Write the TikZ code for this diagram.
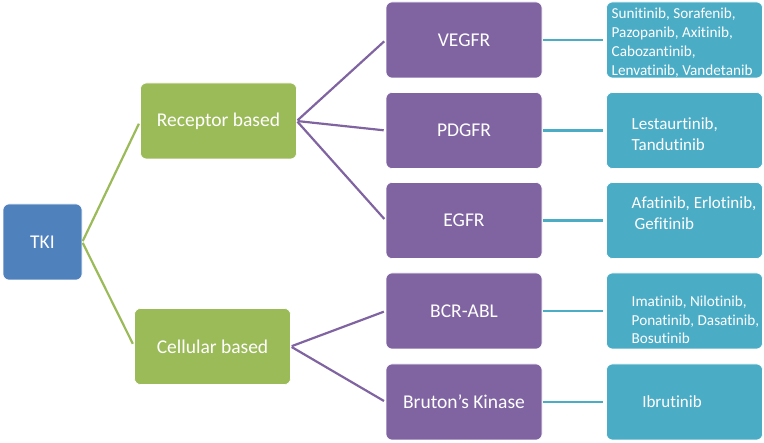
\documentclass[tikz,border=0pt]{standalone}
\usepackage{fontspec}
\setmainfont{Carlito}[RawFeature={-liga}]
\definecolor{cblue}{HTML}{4F81BD}
\definecolor{cgreen}{HTML}{9BBB59}
\definecolor{cpurple}{HTML}{8064A2}
\definecolor{cteal}{HTML}{4BACC6}
\begin{document}
\begin{tikzpicture}[x=1pt,y=-1pt,
  box/.style={rounded corners=6pt, draw=white, line width=0.6pt, text=white, inner sep=0pt,
    minimum height=76pt, font=\fontsize{19.5}{23.5}\selectfont},
  tkibox/.style={box, fill=cblue, minimum width=79pt},
  grnbox/.style={box, fill=cgreen, minimum width=156pt},
  purbox/.style={box, fill=cpurple, minimum width=156pt},
  tealbox/.style={box, fill=cteal, minimum width=156pt},
  drug/.style={text=white, inner sep=0pt, align=left, anchor=west},
  gline/.style={draw=cgreen, line width=2.2pt, shorten <=1pt, shorten >=3pt},
  pline/.style={draw=cpurple, line width=2.2pt, shorten <=1pt, shorten >=2pt},
  tline/.style={draw=cteal, line width=2.2pt, shorten <=1pt, shorten >=3pt}
]
\useasboundingbox (0,0) rectangle (764,443);
% main nodes
\node[tkibox] (tki) at (42.5,242) {TKI};
\node[grnbox] (rec) at (218.5,121) {Receptor based};
\node[grnbox] (cel) at (212.5,346.5) {Cellular based};
\node[purbox] (vegfr) at (464,40) {VEGFR};
\node[purbox] (pdgfr) at (464,130.5) {PDGFR};
\node[purbox] (egfr) at (464,220.5) {EGFR};
\node[purbox] (bcr) at (464,311) {BCR-ABL};
\node[purbox] (btk) at (464,402) {Bruton’s Kinase};
\node[tealbox] (d1) at (684.5,40) {};
\node[tealbox] (d2) at (684.5,130.5) {};
\node[tealbox] (d3) at (684.5,220.5) {};
\node[tealbox] (d4) at (684.5,311) {};
\node[tealbox] (d5) at (684.5,402) {};
% drug texts
\node[drug, font=\fontsize{15.2}{19}\selectfont] (t1) at (611.5,43) {Sunitinib, Sorafenib,\\Pazopanib, Axitinib,\\Cabozantinib,\\Lenvatinib, Vandetanib};
\node[drug, font=\fontsize{17}{20.5}\selectfont] (t2) at (631.5,134) {Lestaurtinib,\\Tandutinib};
\node[drug, font=\fontsize{17}{21}\selectfont] (t3) at (631.5,213) {Afatinib, Erlotinib,\\\hspace*{3pt}Gefitinib};
\node[drug, font=\fontsize{15.2}{18.3}\selectfont] (t4) at (631.5,320) {Imatinib, Nilotinib,\\Ponatinib, Dasatinib,\\Bosutinib};
\node[text=white, inner sep=0pt, font=\fontsize{17}{20.5}\selectfont] (t5) at (672,402) {Ibrutinib};
% connectors
\draw[gline] (tki.east) -- (rec.west);
\draw[gline] (tki.east) -- (cel.west);
\draw[pline] (rec.east) -- (vegfr.west);
\draw[pline] (rec.east) -- (pdgfr.west);
\draw[pline] (rec.east) -- (egfr.west);
\draw[pline] (cel.east) -- (bcr.west);
\draw[pline] (cel.east) -- (btk.west);
\draw[tline] (vegfr.east) -- (d1.west);
\draw[tline] (pdgfr.east) -- (d2.west);
\draw[tline] (egfr.east) -- (d3.west);
\draw[tline] (bcr.east) -- (d4.west);
\draw[tline] (btk.east) -- (d5.west);
\end{tikzpicture}
\end{document}
